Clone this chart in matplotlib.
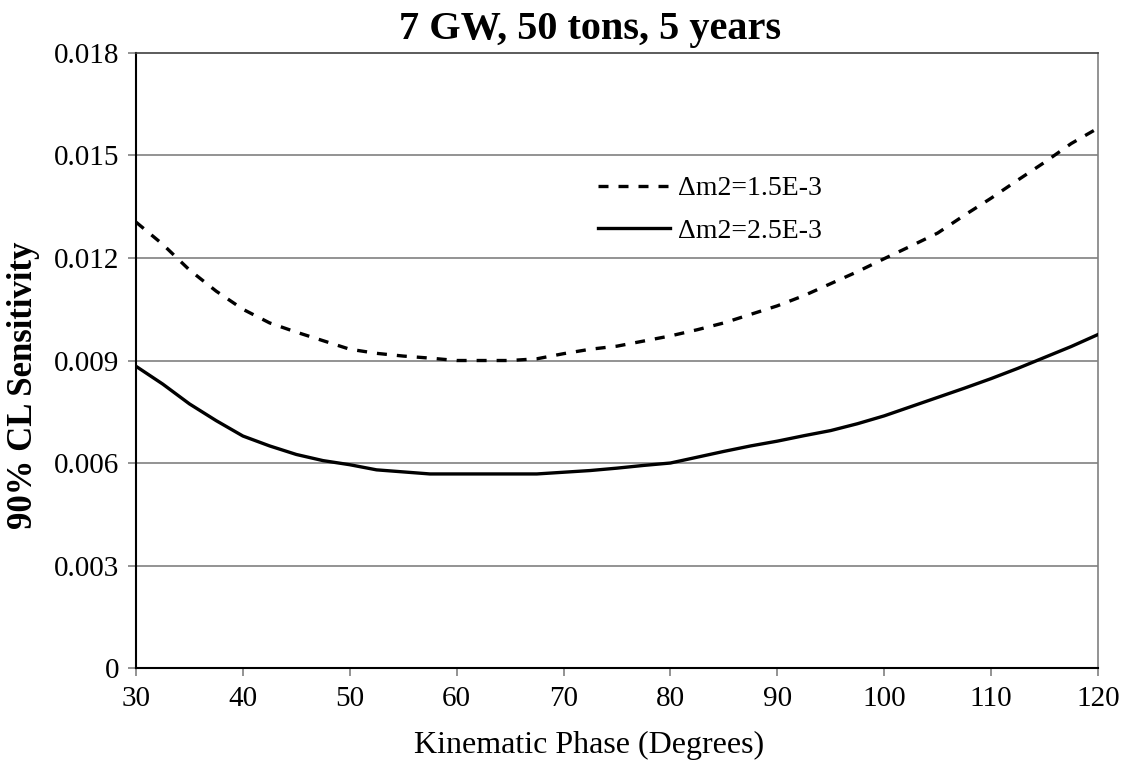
import matplotlib
matplotlib.use("Agg")
import matplotlib.pyplot as plt
from matplotlib.ticker import FixedLocator, FixedFormatter

# --- dados ---
fase = [30, 32.5, 35, 37.5, 40, 42.5, 45, 47.5, 50, 52.5, 55, 57.5, 60, 62.5,
        65, 67.5, 70, 72.5, 75, 77.5, 80, 82.5, 85, 87.5, 90, 92.5, 95, 97.5,
        100, 102.5, 105, 107.5, 110, 112.5, 115, 117.5, 120]

sens_dm15 = [0.01305, 0.01240, 0.01165, 0.01103, 0.01050, 0.01010, 0.00983,
             0.00958, 0.00933, 0.00921, 0.00913, 0.00907, 0.00900, 0.00900,
             0.00900, 0.00905, 0.00920, 0.00933, 0.00942, 0.00957, 0.00972,
             0.00990, 0.01010, 0.01035, 0.01060, 0.01090, 0.01125, 0.01160,
             0.01198, 0.01235, 0.01273, 0.01325, 0.01375, 0.01428, 0.01480,
             0.01535, 0.01580]

sens_dm25 = [0.00883, 0.00831, 0.00773, 0.00724, 0.00679, 0.00650, 0.00625,
             0.00607, 0.00595, 0.00580, 0.00574, 0.00568, 0.00568, 0.00568,
             0.00568, 0.00568, 0.00573, 0.00578, 0.00585, 0.00593, 0.00600,
             0.00617, 0.00634, 0.00650, 0.00664, 0.00680, 0.00695, 0.00715,
             0.00738, 0.00765, 0.00792, 0.00819, 0.00847, 0.00877, 0.00909,
             0.00941, 0.00976]

rotulos = ["\u0394m2=1.5E-3", "\u0394m2=2.5E-3"]
x_ticks = [30, 40, 50, 60, 70, 80, 90, 100, 110, 120]
y_ticks = [0, 0.003, 0.006, 0.009, 0.012, 0.015, 0.018]
y_labels = ["0", "0.003", "0.006", "0.009", "0.012", "0.015", "0.018"]

plt.rcParams["font.family"] = ["Liberation Serif", "DejaVu Serif"]

fig = plt.figure(figsize=(11.26, 7.69), dpi=100)
ax = fig.add_axes([0.1208, 0.1313, 0.8543, 0.7998])

# grade horizontal cinza
for yv in y_ticks[1:-1]:
    ax.axhline(yv, color="#808080", linewidth=1.2, zorder=1)

ax.plot(fase, sens_dm15, color="black", linewidth=2.4, linestyle=(0, (3, 3)),
        label=rotulos[0], zorder=3)
ax.plot(fase, sens_dm25, color="black", linewidth=2.4, linestyle="-",
        label=rotulos[1], zorder=3)

ax.set_xlim(30, 120)
ax.set_ylim(0, 0.018)
ax.xaxis.set_major_locator(FixedLocator(x_ticks))
ax.yaxis.set_major_locator(FixedLocator(y_ticks))
ax.yaxis.set_major_formatter(FixedFormatter(y_labels))
ax.tick_params(axis="both", direction="out", length=6, width=1.2,
               color="#808080", labelsize=21, pad=6)
ax.tick_params(axis="x", pad=7)

ax.spines["left"].set_color("black")
ax.spines["bottom"].set_color("black")
ax.spines["left"].set_linewidth(1.5)
ax.spines["bottom"].set_linewidth(1.5)
ax.spines["top"].set_color("#404040")
ax.spines["right"].set_color("#808080")
ax.spines["top"].set_linewidth(1.2)
ax.spines["right"].set_linewidth(1.2)

# títulos posicionados na figura
fig.text(0.5237, 0.961, "7 GW, 50 tons, 5 years", fontsize=29,
         fontweight="bold", ha="center", va="center")
fig.text(0.523, 0.030, "Kinematic Phase (Degrees)", fontsize=23,
         ha="center", va="center")
fig.text(0.0213, 0.4987, "90% CL Sensitivity", fontsize=25, fontweight="bold",
         rotation=90, ha="center", va="center")

leg = ax.legend(loc="upper left", bbox_to_anchor=(0.480, 0.800), frameon=False,
                fontsize=20, handlelength=2.6, handletextpad=0.3,
                labelspacing=0.6, borderpad=0, borderaxespad=0)

fig.savefig("out.png", dpi=100)
